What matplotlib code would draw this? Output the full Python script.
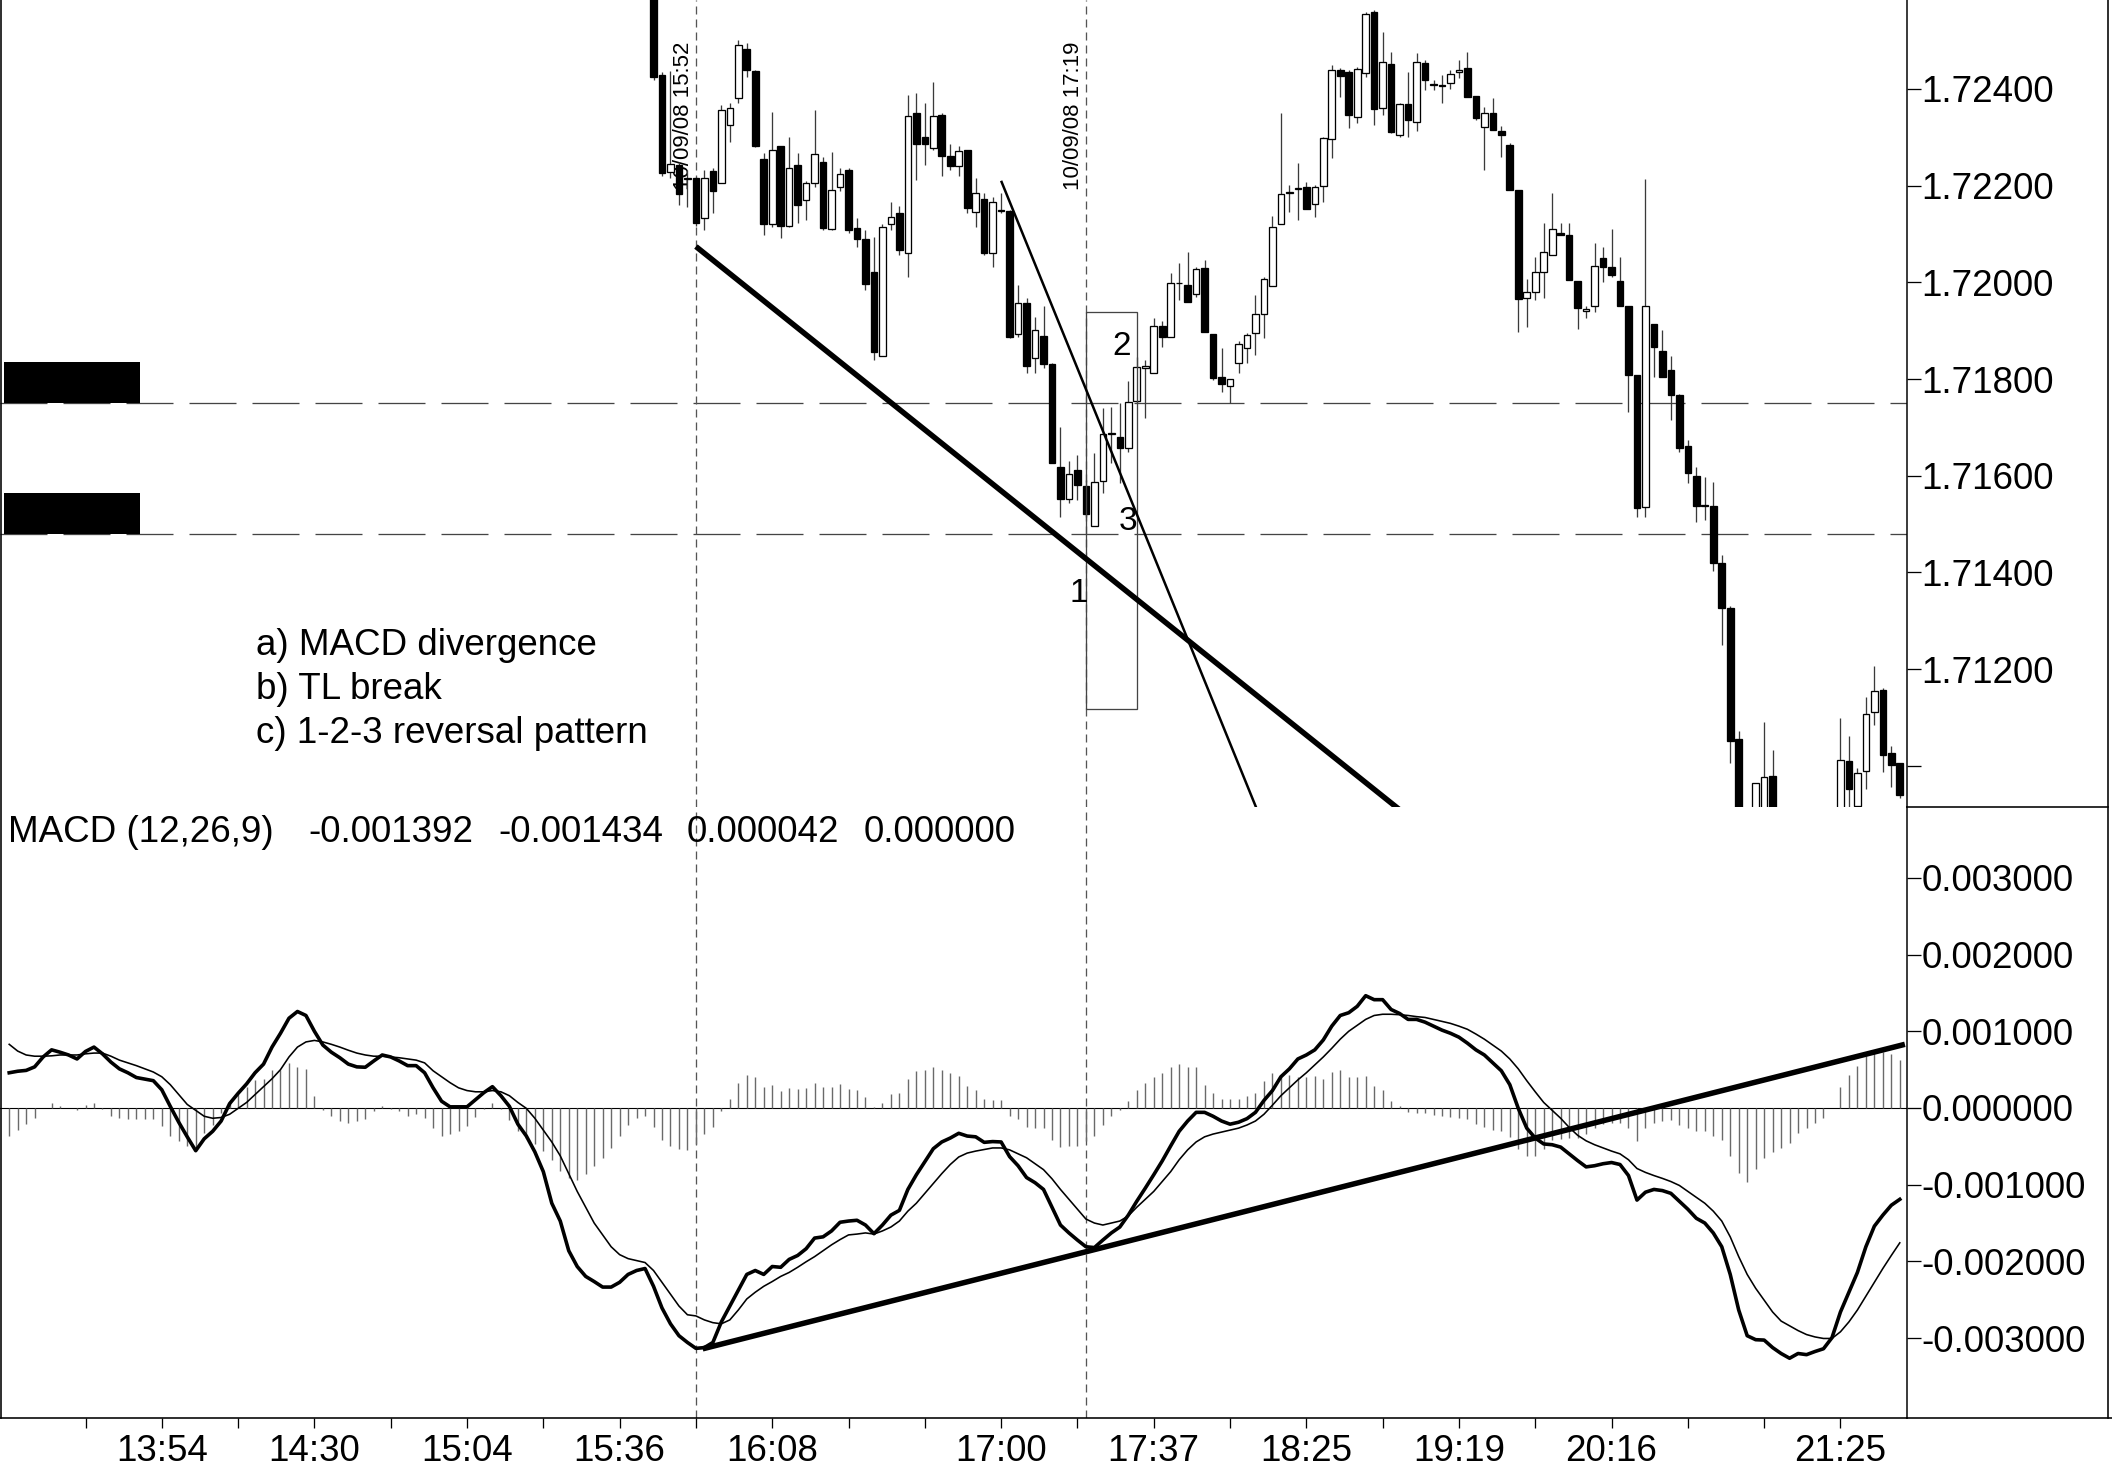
import matplotlib
matplotlib.use("Agg")
import matplotlib.pyplot as plt
import matplotlib.transforms as mtransforms
from matplotlib.patches import Rectangle
from matplotlib.lines import Line2D
import numpy as np

plt.rcParams['font.family'] = ['Liberation Sans', 'DejaVu Sans']
plt.rcParams['lines.scale_dashes'] = False

# -----------------------------------------------------------
# DATA  (bar index on x, price / MACD)
# -----------------------------------------------------------

first_candle = 67          # candles before this bar sit above the visible range

opens = [
    1.72650, 1.72429, 1.72228, 1.72243, 1.72213, 1.72215, 1.72133, 1.72231, 1.72206, 1.72325,   # 67-76
    1.72381, 1.72483, 1.72437, 1.72255, 1.72121, 1.72281, 1.72117, 1.72243, 1.72170, 1.72206,   # 77-86
    1.72248, 1.72110, 1.72197, 1.72232, 1.72113, 1.72089, 1.72022, 1.71848, 1.72121, 1.72143,   # 87-96
    1.72060, 1.72350, 1.72301, 1.72277, 1.72346, 1.72261, 1.72241, 1.72274, 1.72146, 1.72172,   # 97-106
    1.72060, 1.72150, 1.72148, 1.71893, 1.71958, 1.71844, 1.71889, 1.71831, 1.71618, 1.71551,   # 107-116
    1.71612, 1.71579, 1.71495, 1.71589, 1.71686, 1.71680, 1.71657, 1.71755, 1.71822, 1.71812,   # 117-126
    1.71909, 1.71886, 1.71998, 1.71995, 1.71975, 1.72029, 1.71893, 1.71805, 1.71786, 1.71833,   # 127-136
    1.71864, 1.71895, 1.71935, 1.71993, 1.72121, 1.72184, 1.72194, 1.72198, 1.72163, 1.72199,   # 137-146
    1.72296, 1.72439, 1.72434, 1.72341, 1.72432, 1.72560, 1.72360, 1.72451, 1.72305, 1.72368,   # 147-156
    1.72332, 1.72454, 1.72410, 1.72409, 1.72412, 1.72436, 1.72444, 1.72385, 1.72322, 1.72351,   # 157-166
    1.72313, 1.72284, 1.72190, 1.71967, 1.71979, 1.72022, 1.72057, 1.72101, 1.72097, 1.72003,   # 167-176
    1.71941, 1.71950, 1.72050, 1.72032, 1.72003, 1.71950, 1.71808, 1.71536, 1.71914, 1.71858,   # 177-186
    1.71819, 1.71767, 1.71662, 1.71600, 1.71539, 1.71537, 1.71419, 1.71327, 1.71056, 1.70850,   # 187-196
    1.70800, 1.70880, 1.70978, 1.70850, 1.70760, 1.70700, 1.70720, 1.70780, 1.70760, 1.70800,   # 197-206
    1.70880, 1.71009, 1.70917, 1.70989, 1.71111, 1.71157, 1.71026, 1.71005,                     # 207-214
]
highs = [
    1.72680, 1.72435, 1.72437, 1.72249, 1.72232, 1.72218, 1.72232, 1.72237, 1.72367, 1.72371,
    1.72501, 1.72495, 1.72439, 1.72268, 1.72353, 1.72282, 1.72301, 1.72268, 1.72210, 1.72356,
    1.72260, 1.72270, 1.72237, 1.72237, 1.72133, 1.72108, 1.72094, 1.72121, 1.72167, 1.72157,
    1.72388, 1.72391, 1.72371, 1.72415, 1.72350, 1.72286, 1.72281, 1.72274, 1.72216, 1.72184,
    1.72177, 1.72185, 1.72150, 1.71995, 1.71968, 1.71929, 1.71950, 1.71833, 1.71701, 1.71631,
    1.71643, 1.71591, 1.71646, 1.71739, 1.71743, 1.71750, 1.71795, 1.71846, 1.71840, 1.71926,
    1.71919, 1.72019, 1.72039, 1.72063, 1.72032, 1.72046, 1.71893, 1.71864, 1.71800, 1.71879,
    1.71895, 1.71974, 1.72012, 1.72137, 1.72350, 1.72201, 1.72246, 1.72208, 1.72201, 1.72301,
    1.72450, 1.72443, 1.72439, 1.72446, 1.72560, 1.72563, 1.72518, 1.72477, 1.72370, 1.72436,
    1.72474, 1.72460, 1.72419, 1.72429, 1.72439, 1.72460, 1.72477, 1.72385, 1.72363, 1.72382,
    1.72323, 1.72288, 1.72190, 1.72006, 1.72053, 1.72122, 1.72184, 1.72122, 1.72122, 1.72003,
    1.71950, 1.72081, 1.72074, 1.72111, 1.72053, 1.71950, 1.71808, 1.72213, 1.71914, 1.71901,
    1.71848, 1.71769, 1.71674, 1.71617, 1.71598, 1.71588, 1.71436, 1.71331, 1.71071, 1.70880,
    1.70964, 1.71091, 1.71033, 1.70880, 1.70800, 1.70760, 1.70820, 1.70840, 1.70860, 1.70880,
    1.71098, 1.71062, 1.70995, 1.71143, 1.71207, 1.71160, 1.71040, 1.71005,
]
lows = [
    1.72418, 1.72220, 1.72216, 1.72160, 1.72156, 1.72117, 1.72108, 1.72143, 1.72206, 1.72291,
    1.72371, 1.72425, 1.72280, 1.72098, 1.72115, 1.72092, 1.72115, 1.72123, 1.72129, 1.72197,
    1.72108, 1.72108, 1.72188, 1.72102, 1.72074, 1.71984, 1.71839, 1.71848, 1.72108, 1.72057,
    1.72012, 1.72212, 1.72243, 1.72274, 1.72219, 1.72232, 1.72219, 1.72143, 1.72115, 1.72057,
    1.72032, 1.72143, 1.71885, 1.71887, 1.71813, 1.71813, 1.71823, 1.71626, 1.71515, 1.71543,
    1.71550, 1.71515, 1.71495, 1.71564, 1.71626, 1.71585, 1.71650, 1.71751, 1.71719, 1.71812,
    1.71867, 1.71886, 1.71964, 1.71959, 1.71970, 1.71898, 1.71798, 1.71774, 1.71750, 1.71812,
    1.71833, 1.71850, 1.71884, 1.71993, 1.72121, 1.72146, 1.72129, 1.72151, 1.72135, 1.72167,
    1.72257, 1.72384, 1.72319, 1.72329, 1.72424, 1.72326, 1.72346, 1.72308, 1.72301, 1.72301,
    1.72312, 1.72398, 1.72398, 1.72370, 1.72399, 1.72422, 1.72384, 1.72336, 1.72232, 1.72314,
    1.72260, 1.72190, 1.71898, 1.71908, 1.71964, 1.71967, 1.72057, 1.72098, 1.72005, 1.71903,
    1.71926, 1.71939, 1.72001, 1.72012, 1.71950, 1.71731, 1.71515, 1.71515, 1.71805, 1.71805,
    1.71715, 1.71650, 1.71584, 1.71504, 1.71509, 1.71402, 1.71250, 1.71005, 1.70820, 1.70750,
    1.70780, 1.70860, 1.70800, 1.70720, 1.70650, 1.70660, 1.70700, 1.70730, 1.70740, 1.70780,
    1.70860, 1.70900, 1.70915, 1.70951, 1.71085, 1.70988, 1.70957, 1.70933,
]
closes = [
    1.72424, 1.72226, 1.72244, 1.72182, 1.72215, 1.72122, 1.72215, 1.72189, 1.72356, 1.72360,
    1.72491, 1.72439, 1.72281, 1.72121, 1.72274, 1.72117, 1.72236, 1.72160, 1.72205, 1.72265,
    1.72112, 1.72190, 1.72224, 1.72108, 1.72089, 1.71997, 1.71855, 1.72115, 1.72136, 1.72067,
    1.72344, 1.72286, 1.72286, 1.72345, 1.72261, 1.72241, 1.72272, 1.72153, 1.72185, 1.72060,
    1.72167, 1.72148, 1.71887, 1.71957, 1.71827, 1.71902, 1.71831, 1.71627, 1.71551, 1.71604,
    1.71580, 1.71520, 1.71588, 1.71686, 1.71688, 1.71657, 1.71753, 1.71824, 1.71827, 1.71909,
    1.71886, 1.71999, 1.71999, 1.71959, 1.72027, 1.71898, 1.71803, 1.71789, 1.71800, 1.71873,
    1.71891, 1.71935, 1.72006, 1.72115, 1.72183, 1.72186, 1.72195, 1.72151, 1.72198, 1.72298,
    1.72439, 1.72427, 1.72346, 1.72441, 1.72555, 1.72358, 1.72455, 1.72310, 1.72368, 1.72336,
    1.72455, 1.72419, 1.72409, 1.72406, 1.72430, 1.72439, 1.72384, 1.72339, 1.72350, 1.72314,
    1.72305, 1.72190, 1.71965, 1.71979, 1.72022, 1.72063, 1.72110, 1.72098, 1.72005, 1.71946,
    1.71944, 1.72034, 1.72032, 1.72015, 1.71950, 1.71808, 1.71534, 1.71952, 1.71867, 1.71805,
    1.71767, 1.71657, 1.71605, 1.71538, 1.71537, 1.71419, 1.71327, 1.71051, 1.70850, 1.70780,
    1.70964, 1.70976, 1.70850, 1.70760, 1.70700, 1.70720, 1.70780, 1.70760, 1.70800, 1.70840,
    1.71012, 1.70951, 1.70986, 1.71107, 1.71155, 1.71022, 1.71002, 1.70940,
]

# MACD (12,26,9) in units of 0.001, bars -9 .. 214
first_macd = -9
macd_line = [
    0.459, 0.479, 0.490, 0.536, 0.665, 0.758, 0.727, 0.691, 0.639,
    0.737, 0.794, 0.706, 0.598, 0.510, 0.459, 0.397, 0.376, 0.356, 0.237,
    0.021, -0.186, -0.376, -0.557, -0.402, -0.304, -0.170, 0.057, 0.191, 0.314,
    0.459, 0.572, 0.794, 0.974, 1.170, 1.258, 1.206, 1.000, 0.820, 0.727,
    0.655, 0.572, 0.536, 0.531, 0.613, 0.691, 0.665, 0.613, 0.552, 0.552,
    0.459, 0.263, 0.088, 0.015, 0.015, 0.015, 0.108, 0.201, 0.278, 0.160,
    0.021, -0.211, -0.366, -0.572, -0.830, -1.242, -1.474, -1.861, -2.067, -2.196,
    -2.263, -2.335, -2.335, -2.273, -2.170, -2.119, -2.093, -2.325, -2.608, -2.814,
    -2.969, -3.057, -3.134, -3.124, -3.057, -2.789, -2.582, -2.376, -2.170, -2.119,
    -2.170, -2.067, -2.077, -1.974, -1.923, -1.835, -1.696, -1.680, -1.603, -1.490,
    -1.474, -1.464, -1.526, -1.639, -1.526, -1.397, -1.335, -1.062, -0.871, -0.701,
    -0.531, -0.443, -0.392, -0.330, -0.366, -0.376, -0.448, -0.438, -0.443, -0.634,
    -0.753, -0.907, -0.974, -1.062, -1.294, -1.526, -1.629, -1.722, -1.809, -1.820,
    -1.722, -1.629, -1.552, -1.397, -1.216, -1.046, -0.871, -0.691, -0.495, -0.304,
    -0.170, -0.057, -0.057, -0.108, -0.170, -0.211, -0.186, -0.139, -0.057, 0.098,
    0.227, 0.407, 0.510, 0.639, 0.691, 0.758, 0.887, 1.067, 1.206, 1.242,
    1.325, 1.464, 1.412, 1.412, 1.284, 1.232, 1.155, 1.155, 1.119, 1.067,
    1.015, 0.974, 0.923, 0.845, 0.758, 0.691, 0.588, 0.485, 0.304, -0.005,
    -0.263, -0.392, -0.469, -0.479, -0.510, -0.598, -0.686, -0.768, -0.753, -0.727,
    -0.711, -0.737, -0.881, -1.201, -1.098, -1.062, -1.077, -1.113, -1.216, -1.320,
    -1.438, -1.500, -1.629, -1.809, -2.170, -2.634, -2.969, -3.021, -3.026, -3.124,
    -3.201, -3.263, -3.201, -3.216, -3.175, -3.139, -2.995, -2.660, -2.402, -2.144,
    -1.809, -1.541, -1.397, -1.268, -1.191,
]
signal_line = [
    0.830, 0.742, 0.691, 0.675, 0.675, 0.680, 0.691, 0.691, 0.691,
    0.706, 0.716, 0.716, 0.675, 0.624, 0.588, 0.552, 0.510, 0.469, 0.407,
    0.304, 0.175, 0.046, -0.031, -0.108, -0.134, -0.124, -0.082, -0.005, 0.072,
    0.175, 0.278, 0.381, 0.500, 0.665, 0.794, 0.861, 0.881, 0.861, 0.830,
    0.794, 0.753, 0.716, 0.691, 0.675, 0.675, 0.665, 0.655, 0.639, 0.624,
    0.588, 0.485, 0.407, 0.330, 0.263, 0.227, 0.211, 0.211, 0.227, 0.211,
    0.160, 0.072, -0.005, -0.134, -0.289, -0.443, -0.624, -0.856, -1.088, -1.294,
    -1.500, -1.655, -1.809, -1.912, -1.964, -1.990, -2.015, -2.119, -2.273, -2.428,
    -2.582, -2.696, -2.711, -2.763, -2.799, -2.814, -2.763, -2.634, -2.490, -2.402,
    -2.325, -2.263, -2.196, -2.144, -2.077, -2.005, -1.938, -1.861, -1.784, -1.716,
    -1.655, -1.644, -1.629, -1.644, -1.603, -1.552, -1.474, -1.345, -1.242, -1.113,
    -0.985, -0.856, -0.737, -0.639, -0.588, -0.562, -0.541, -0.521, -0.521, -0.546,
    -0.598, -0.649, -0.727, -0.804, -0.923, -1.062, -1.191, -1.320, -1.448, -1.500,
    -1.526, -1.500, -1.474, -1.407, -1.294, -1.191, -1.088, -0.959, -0.830, -0.675,
    -0.546, -0.443, -0.376, -0.340, -0.314, -0.289, -0.263, -0.222, -0.170, -0.082,
    0.036, 0.160, 0.263, 0.366, 0.459, 0.562, 0.665, 0.778, 0.897, 1.000,
    1.077, 1.155, 1.206, 1.222, 1.222, 1.216, 1.206, 1.191, 1.180, 1.155,
    1.129, 1.103, 1.067, 1.026, 0.964, 0.897, 0.820, 0.742, 0.639, 0.510,
    0.356, 0.211, 0.072, -0.031, -0.134, -0.253, -0.356, -0.428, -0.479, -0.521,
    -0.562, -0.598, -0.675, -0.789, -0.840, -0.881, -0.918, -0.959, -1.010, -1.088,
    -1.165, -1.242, -1.345, -1.474, -1.680, -1.938, -2.170, -2.351, -2.505, -2.660,
    -2.778, -2.840, -2.902, -2.954, -2.985, -3.005, -3.005, -2.918, -2.789, -2.634,
    -2.454, -2.273, -2.093, -1.923, -1.758,
]
histogram = [
    -0.37, -0.29, -0.21, -0.13, 0.00, 0.07, 0.02, 0.00, -0.03,
    0.04, 0.07, -0.01, -0.11, -0.13, -0.15, -0.15, -0.15, -0.15, -0.24,
    -0.37, -0.43, -0.49, -0.55, -0.33, -0.22, -0.06, 0.09, 0.18, 0.28,
    0.36, 0.38, 0.49, 0.50, 0.59, 0.54, 0.51, 0.15, -0.03, -0.11,
    -0.17, -0.19, -0.17, -0.15, -0.04, 0.02, -0.01, -0.04, -0.10, -0.08,
    -0.13, -0.26, -0.36, -0.34, -0.30, -0.24, -0.12, -0.01, 0.06, -0.01,
    -0.16, -0.30, -0.39, -0.47, -0.56, -0.68, -0.82, -0.91, -0.94, -0.86,
    -0.75, -0.65, -0.52, -0.36, -0.22, -0.13, -0.10, -0.25, -0.42, -0.50,
    -0.53, -0.55, -0.47, -0.34, -0.25, -0.04, 0.12, 0.33, 0.43, 0.40,
    0.28, 0.30, 0.22, 0.26, 0.25, 0.26, 0.32, 0.28, 0.28, 0.31,
    0.25, 0.23, 0.14, 0.01, 0.07, 0.18, 0.19, 0.38, 0.48, 0.50,
    0.53, 0.50, 0.46, 0.42, 0.29, 0.23, 0.12, 0.10, 0.10, -0.10,
    -0.15, -0.25, -0.26, -0.26, -0.42, -0.51, -0.49, -0.49, -0.43, -0.37,
    -0.22, -0.11, -0.03, 0.09, 0.23, 0.32, 0.40, 0.46, 0.54, 0.57,
    0.54, 0.54, 0.30, 0.19, 0.12, 0.12, 0.12, 0.15, 0.20, 0.35,
    0.46, 0.43, 0.43, 0.41, 0.41, 0.42, 0.38, 0.47, 0.49, 0.41,
    0.40, 0.42, 0.29, 0.24, 0.09, 0.02, -0.05, -0.06, -0.07, -0.09,
    -0.11, -0.12, -0.13, -0.15, -0.21, -0.25, -0.29, -0.30, -0.38, -0.53,
    -0.62, -0.62, -0.53, -0.42, -0.41, -0.39, -0.39, -0.34, -0.26, -0.21,
    -0.19, -0.19, -0.26, -0.43, -0.26, -0.20, -0.17, -0.16, -0.22, -0.26,
    -0.30, -0.30, -0.36, -0.42, -0.62, -0.85, -0.96, -0.80, -0.65, -0.57,
    -0.52, -0.46, -0.33, -0.26, -0.19, -0.13, 0.00, 0.28, 0.43, 0.55,
    0.68, 0.72, 0.73, 0.71, 0.63,
]
macd_readout = ['MACD (12,26,9)', '-0.001392', '-0.001434', '0.000042', '0.000000']

# x axis: a tick every 9 bars, time labels on some of them
tick_bars = list(range(0, 208, 9))
label_bars = [9, 27, 45, 63, 81, 108, 126, 144, 162, 180, 207]
label_times = ['13:54', '14:30', '15:04', '15:36', '16:08', '17:00',
               '17:37', '18:25', '19:19', '20:16', '21:25']

price_ticks = [1.710, 1.712, 1.714, 1.716, 1.718, 1.720, 1.722, 1.724]
macd_ticks = [-0.003, -0.002, -0.001, 0.0, 0.001, 0.002, 0.003]

# annotations
marker_bars = [72, 118]
marker_texts = ['10/09/08 15:52', '10/09/08 17:19']
level_lines = [1.71750, 1.71479]
level_boxes = [(1.71750, 1.71836), (1.71479, 1.71565)]
price_tl_thick = ([72, 160], [1.72074, 1.70839])
price_tl_thin = ([108, 140], [1.72210, 1.70831])
macd_tl = ([72.8, 214.6], [-3.14, 0.83])
pattern_box = (118.0, 124.0, 1.71117, 1.71939)
pattern_points = [('1', 117.1, 1.71357), ('2', 122.2, 1.71867), ('3', 123.0, 1.71505)]
notes = ['a) MACD divergence', 'b) TL break', 'c) 1-2-3 reversal pattern']

# -----------------------------------------------------------
# LAYOUT
# -----------------------------------------------------------

W, H, DPI = 2112, 1469, 100
PX = 72.0 / DPI            # one pixel in points
BAR_PX = 8.478             # pixels per bar
X0_PX = 85.5               # pixel position of bar 0
AX_RIGHT = 1906.5
SPLIT_Y = 806.7
AXIS_Y = 1417.7
FS = 26.5

fig = plt.figure(figsize=(W / DPI, H / DPI), dpi=DPI)
fig.patch.set_facecolor('white')


def fx(px):
    return px / W


def fy(py):
    return 1 - py / H


ax_p = fig.add_axes([0, fy(SPLIT_Y), fx(AX_RIGHT), fy(0) - fy(SPLIT_Y)])
ax_m = fig.add_axes([0, fy(AXIS_Y), fx(AX_RIGHT), fy(SPLIT_Y) - fy(AXIS_Y)])

xlim = (-X0_PX / BAR_PX, (AX_RIGHT - X0_PX) / BAR_PX)
for ax in (ax_p, ax_m):
    ax.set_xlim(*xlim)
    ax.set_facecolor('none')
    for side in ('top', 'left', 'bottom'):
        ax.spines[side].set_visible(False)
    ax.spines['right'].set_linewidth(1.5 * PX)
    ax.yaxis.tick_right()
    ax.tick_params(axis='y', direction='out', length=14 * PX, width=1.3 * PX,
                   pad=1 * PX, labelsize=FS, colors='black')

ax_p.set_ylim(1.709154, 1.725839)
ax_m.set_ylim(-0.004038, 0.003928)

# -----------------------------------------------------------
# PRICE PANEL
# -----------------------------------------------------------

o = np.array(opens)
h = np.array(highs)
l = np.array(lows)
c = np.array(closes)
xb = np.arange(first_candle, first_candle + len(o))

ax_p.vlines(xb, l, h, color='#3a3a3a', lw=1.3 * PX, zorder=2)
up = c >= o
body_low = np.minimum(o, c)
body_h = np.maximum(np.abs(c - o), 0.000015)
ax_p.bar(xb[up], body_h[up], bottom=body_low[up], width=0.78,
         color='white', edgecolor='black', linewidth=1.3 * PX, zorder=3)
ax_p.bar(xb[~up], body_h[~up], bottom=body_low[~up], width=0.78,
         color='black', edgecolor='black', linewidth=1.3 * PX, zorder=3)

for lvl in level_lines:
    ax_p.axhline(lvl, color='#444444', lw=1.3 * PX, dashes=(47 * PX, 16 * PX), zorder=1)
for lo, hi in level_boxes:
    ax_p.add_patch(Rectangle((-9.66, lo), 16.08, hi - lo, facecolor='black',
                             edgecolor='none', zorder=4))

ax_p.plot(*price_tl_thick, color='black', lw=5.5 * PX, solid_capstyle='butt', zorder=5)
ax_p.plot(*price_tl_thin, color='black', lw=2.5 * PX, solid_capstyle='butt', zorder=5)

bx0, bx1, by0, by1 = pattern_box
ax_p.add_patch(Rectangle((bx0, by0), bx1 - bx0, by1 - by0, fill=False,
                         edgecolor='#444444', lw=1.3 * PX, zorder=4))
for txt, px_, py_ in pattern_points:
    ax_p.text(px_, py_, txt, fontsize=24, ha='center', va='center', zorder=6)

for k, txt in enumerate(notes):
    fig.text(fx(256), fy(655 + 44.2 * k), txt, fontsize=FS, ha='left', va='baseline')

ax_p.set_yticks(price_ticks)
ax_p.set_yticklabels(['' if t < 1.711 else '%.5f' % t for t in price_ticks])
ax_p.set_xticks([])

trans_p = mtransforms.blended_transform_factory(ax_p.transData, ax_p.transAxes)
for b, txt in zip(marker_bars, marker_texts):
    ax_p.text(b - 0.22, 1 - 42 / SPLIT_Y, txt, transform=trans_p, rotation=90,
              fontsize=16, ha='right', va='top', zorder=1.5)

# -----------------------------------------------------------
# MACD PANEL
# -----------------------------------------------------------

xm = np.arange(first_macd, first_macd + len(macd_line))
ax_m.axhline(0, color='black', lw=1.1 * PX, zorder=2)
ax_m.vlines(xm, 0, np.array(histogram) * 1e-3, color='#6a6a6a', lw=1.4 * PX, zorder=2)
ax_m.plot(xm, np.array(signal_line) * 1e-3, color='black', lw=1.6 * PX, zorder=3)
ax_m.plot(xm, np.array(macd_line) * 1e-3, color='black', lw=3.6 * PX, zorder=3)
ax_m.plot(macd_tl[0], np.array(macd_tl[1]) * 1e-3, color='black', lw=5.5 * PX,
          solid_capstyle='butt', zorder=4)

ax_m.set_yticks(macd_ticks)
ax_m.set_yticklabels(['%.6f' % t for t in macd_ticks])

ax_m.spines['bottom'].set_visible(True)
ax_m.spines['bottom'].set_linewidth(1.6 * PX)
ax_m.set_xticks(tick_bars)
ax_m.set_xticklabels([label_times[label_bars.index(t)] if t in label_bars else ''
                      for t in tick_bars])
ax_m.tick_params(axis='x', direction='out', length=10 * PX, width=1.3 * PX,
                 pad=6 * PX, labelsize=FS)

for ax in (ax_p, ax_m):
    for b in marker_bars:
        ax.axvline(b, color='#555555', lw=1.3 * PX, dashes=(8 * PX, 5 * PX), zorder=1)

readout_x = [8, 308, 498, 687, 864]
for xx, txt in zip(readout_x, macd_readout):
    fig.text(fx(xx), fy(841.5), txt, fontsize=FS, ha='left', va='baseline')

# -----------------------------------------------------------
# FRAME
# -----------------------------------------------------------

frame = [
    ((1, 1), (0, AXIS_Y)),
    ((2108, 2108), (0, AXIS_Y)),
    ((AX_RIGHT, 2112), (AXIS_Y, AXIS_Y)),
    ((AX_RIGHT, 2108), (SPLIT_Y, SPLIT_Y)),
]
for xs, ys in frame:
    fig.add_artist(Line2D([fx(v) for v in xs], [fy(v) for v in ys],
                          transform=fig.transFigure, color='black', lw=1.6 * PX))

fig.savefig('out.png', dpi=DPI)
